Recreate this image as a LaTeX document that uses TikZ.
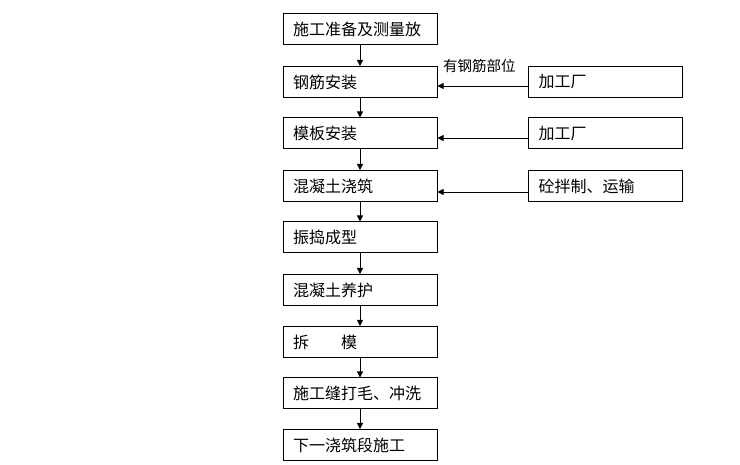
\documentclass[tikz,border=0pt]{standalone}
\usepackage{fontspec}
\setmainfont{Noto Sans CJK SC}
\usetikzlibrary{arrows.meta}
\begin{document}
\begin{tikzpicture}[x=1pt,y=-1pt,
  box/.style={draw,line width=1pt,minimum width=154pt,minimum height=31pt,inner sep=0pt,text width=134pt,align=left,font=\fontsize{16pt}{18pt}\selectfont},
  arr/.style={-{Triangle[length=6pt,width=6pt]},line width=0.8pt}]
\useasboundingbox (0,0) rectangle (740,465);
\node[box] (b1) at (360,29.5) {施工准备及测量放};
\node[box] (b2) at (360,82) {钢筋安装};
\node[box] (b3) at (360,133.5) {模板安装};
\node[box] (b4) at (360,186) {混凝土浇筑};
\node[box] (b5) at (360,237.5) {振捣成型};
\node[box] (b6) at (360,290) {混凝土养护};
\node[box] (b7) at (360,342) {拆　　模};
\node[box] (b8) at (360,393.5) {施工缝打毛、冲洗};
\node[box] (b9) at (360,445) {下一浇筑段施工};
\node[box] (r2) at (605.5,82) {加工厂};
\node[box] (r3) at (605.5,133.5) {加工厂};
\node[box] (r4) at (605.5,186) {砼拌制、运输};
\node[font=\fontsize{14.5pt}{16pt}\selectfont,anchor=west,inner sep=0pt] (lab) at (443,66) {有钢筋部位};
\foreach \a/\b in {b1/b2,b2/b3,b3/b4,b4/b5,b5/b6,b6/b7,b7/b8,b8/b9}
  \draw[arr] (\a.south) -- (\b.north);
\draw[arr] ([yshift=-4pt]r2.west) -- ([yshift=-4pt]r2.west -| b2.east);
\draw[arr] ([yshift=-4.5pt]r3.west) -- ([yshift=-4.5pt]r3.west -| b3.east);
\draw[arr] ([yshift=-6pt]r4.west) -- ([yshift=-6pt]r4.west -| b4.east);
\end{tikzpicture}
\end{document}
